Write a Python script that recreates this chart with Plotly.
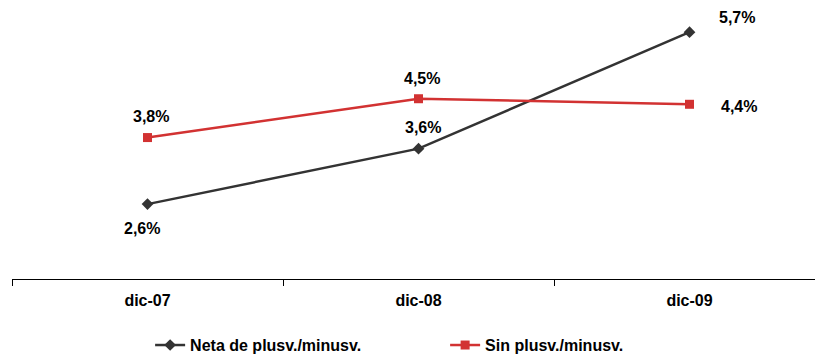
import plotly.graph_objects as go

categories = ["dic-07", "dic-08", "dic-09"]
neta_values = [2.6, 3.6, 5.7]
sin_values = [3.8, 4.5, 4.4]
series_names = ["Neta de plusv./minusv.", "Sin plusv./minusv."]

black = "#333333"
red = "#D23232"
font_family = "Liberation Sans, Arial, sans-serif"

def bold_font(size=16):
    return dict(family=font_family, size=size, color="#000000", weight="bold")

fig = go.Figure()
fig.add_trace(go.Scatter(
    x=categories, y=neta_values, name=series_names[0], mode="lines+markers",
    line=dict(color=black, width=2.5),
    marker=dict(symbol="diamond", size=9, color=black),
))
fig.add_trace(go.Scatter(
    x=categories, y=sin_values, name=series_names[1], mode="lines+markers",
    line=dict(color=red, width=2.5),
    marker=dict(symbol="square", size=9, color=red),
))

def fmt(v):
    return f"{v:.1f}".replace(".", ",") + "%"

# label offsets (px) per point
neta_offsets = [(-6, -24), (4, 21), (47, 15)]
sin_offsets = [(3, 21), (3, 20), (49, -2)]

for cat, v, (dx, dy) in zip(categories, neta_values, neta_offsets):
    fig.add_annotation(x=cat, y=v, text=fmt(v), showarrow=False,
                       xshift=dx, yshift=dy, font=bold_font())
for cat, v, (dx, dy) in zip(categories, sin_values, sin_offsets):
    fig.add_annotation(x=cat, y=v, text=fmt(v), showarrow=False,
                       xshift=dx, yshift=dy, font=bold_font())

fig.update_layout(
    width=815, height=354,
    margin=dict(l=12, r=0, t=0, b=75, autoexpand=False),
    paper_bgcolor="white", plot_bgcolor="white",
    font=bold_font(),
    showlegend=True,
    legend=dict(orientation="h", x=0.172, xanchor="left", y=-0.237, yanchor="middle",
                font=bold_font(),
                entrywidth=250, entrywidthmode="pixels", itemwidth=30,
                bgcolor="rgba(0,0,0,0)"),
    xaxis=dict(type="category", range=[-0.5, 2.463], showgrid=False, zeroline=False,
               automargin=False,
               showline=True, linecolor="#000000", linewidth=1,
               ticks="outside", tickson="boundaries", ticklen=6, tickcolor="#000000",
               ticklabelstandoff=7,
               tickfont=bold_font()),
    yaxis=dict(range=[1.25, 6.28], visible=False, showgrid=False, zeroline=False,
               automargin=False),
)

fig.write_html("out.html", config={"displayModeBar": False},
               post_script="document.body.style.margin='0px';")
